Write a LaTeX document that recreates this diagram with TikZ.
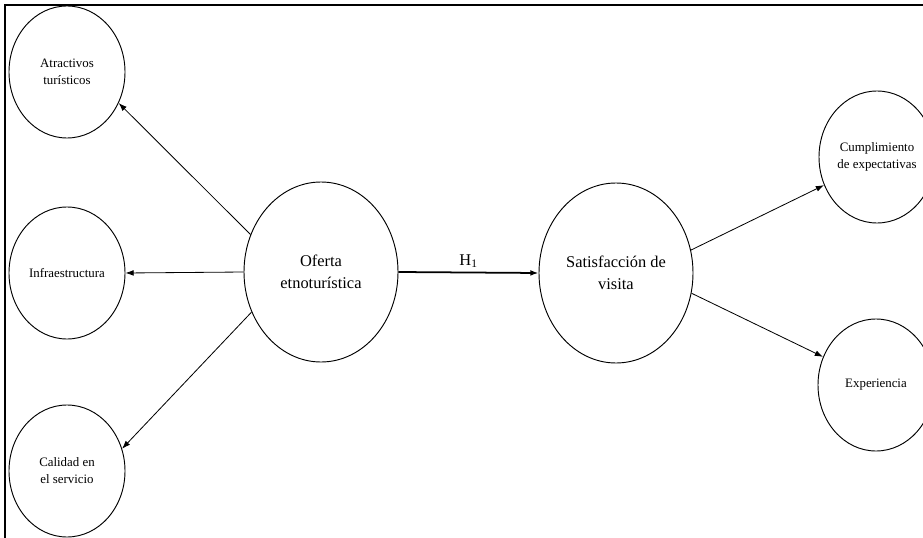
\documentclass[tikz,border=0pt]{standalone}
\usepackage{fontspec}
\setmainfont{Liberation Serif}
\usetikzlibrary{shapes.geometric,arrows.meta}
\tikzstyle{sm}=[draw,ellipse,line width=0.8pt,inner sep=0,minimum width=3.48cm,minimum height=3.96cm,align=center,font=\fontsize{11}{14.5}\selectfont]
\tikzstyle{bg}=[draw,ellipse,line width=0.8pt,inner sep=0,minimum width=4.62cm,minimum height=5.4cm,align=center,font=\fontsize{14}{18.7}\selectfont]
\tikzstyle{ar}=[-{Latex[length=7pt,width=5pt]},line width=0.7pt]

\begin{document}
\begin{tikzpicture}[x=0.03cm,y=-0.03cm]

                        \clip (0,0) rectangle (923,538);
                        \useasboundingbox (0,0) rectangle (923,538);
                        \draw[line width=1.4pt] (5,5) rectangle (960,580);

                        \node[sm] (atr) at (67,72) {Atractivos\\turísticos};
                        \node[sm] (inf) at (67,273) {Infraestructura};
                        \node[sm] (cal) at (67,471) {Calidad en\\el servicio};

                        \node[bg] (of) at (321,272) {Oferta\\etnoturística};
                        \node[bg] (sat) at (616,273) {Satisfacción de\\visita};

                        \node[sm] (cum) at (877,157) {Cumplimiento\\de expectativas};
                        \node[sm] (exp) at (876,385) {Experiencia};

                        \draw[ar]
                        (of.152) -- (atr.-31);
                        \draw[ar]
                        (of.west) -- (inf.east);
                        \draw[ar]
                        (of.210) -- (cal.22);
                        \draw[ar,line width=1.5pt]
                        (of.east) -- node[above,font=\fontsize{14}{16}\selectfont] (h) {H\textsubscript{1}} (sat.west);
                        \draw[ar]
                        (sat.17) -- (cum.208);
                        \draw[ar]
                        (sat.345) -- (exp.152);

\end{tikzpicture}
\end{document}
